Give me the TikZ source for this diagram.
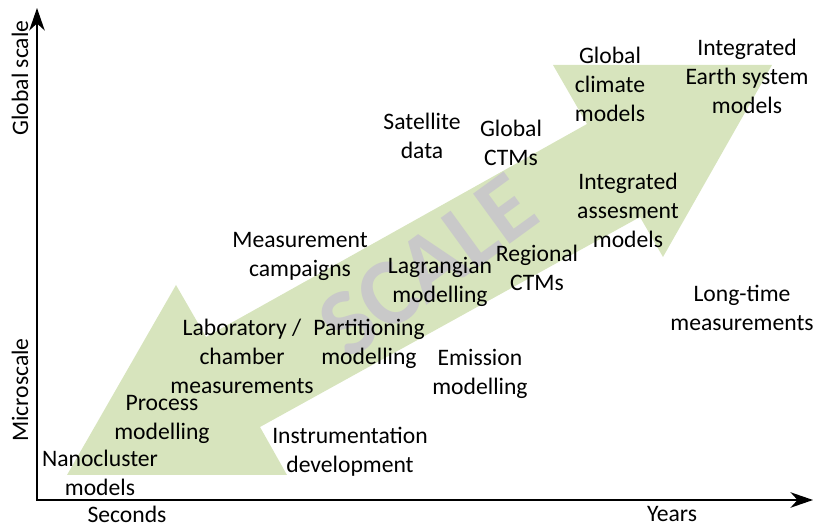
\documentclass[tikz,border=0pt]{standalone}
\usepackage{fontspec}
\setmainfont{Carlito}
\usetikzlibrary{arrows.meta}
\definecolor{scalegreen}{RGB}{215,228,189}
\tikzstyle{lbl} = [align=center, inner sep=0pt, font=\fontsize{16.8}{20.6}\selectfont]
\tikzstyle{axis} = [line width=1.3pt, {Stealth[length=16pt, width=11pt, inset=5pt]}-{Stealth[length=16pt, width=11pt, inset=5pt]}]

\begin{document}
\begin{tikzpicture}[x=0.025cm, y=-0.025cm]
  \useasboundingbox (0,0) rectangle (818,524);

  % double arrow across the scales
  \fill[scalegreen] (67,475) -- (176,285) -- (206,337) -- (587,124) -- (553,65)
    -- (772,65) -- (663,257) -- (640,217) -- (260,427) -- (287,475) -- cycle;
  \node (scale) [rotate=36, text=black!21, font=\fontsize{68}{68}\selectfont\bfseries] at (428,266) {SCALE};

  % axes
  \coordinate (orig) at (37,500);
  \coordinate (ytip) at (37,8);
  \coordinate (xtip) at (813,500);
  \draw[axis] (ytip) -- (orig) -- (xtip);
  \node (glob)  [lbl, rotate=90] at (20,78) {Global scale};
  \node (micro) [lbl, rotate=90] at (20,390) {Microscale};
  \node (sec)   [lbl] at (127,514) {Seconds};
  \node (yrs)   [lbl] at (672,514) {Years};

  % labels
  \node (nano)  [lbl] at (100,473) {Nanocluster\\models};
  \node (proc)  [lbl] at (162,419) {Process\\modelling};
  \node (lab)   [lbl] at (242,356) {Laboratory /\\chamber\\measurements};
  \node (instr) [lbl] at (350,452) {Instrumentation\\development};
  \node (meas)  [lbl] at (300,256) {Measurement\\campaigns};
  \node (part)  [lbl] at (369,344) {Partitioning\\modelling};
  \node (emis)  [lbl] at (480,374) {Emission\\modelling};
  \node (lagr)  [lbl] at (440,282) {Lagrangian\\modelling};
  \node (reg)   [lbl] at (537,268) {Regional\\CTMs};
  \node (sat)   [lbl] at (422,136) {Satellite\\data};
  \node (gctm)  [lbl] at (511,143) {Global\\CTMs};
  \node (gcm)   [lbl] at (610,84) {Global\\climate\\models};
  \node (ies)   [lbl] at (747,76) {Integrated\\Earth system\\models};
  \node (iam)   [lbl] at (628,210) {Integrated\\assesment\\models};
  \node (long)  [lbl] at (742,308) {Long-time\\measurements};
\end{tikzpicture}
\end{document}
